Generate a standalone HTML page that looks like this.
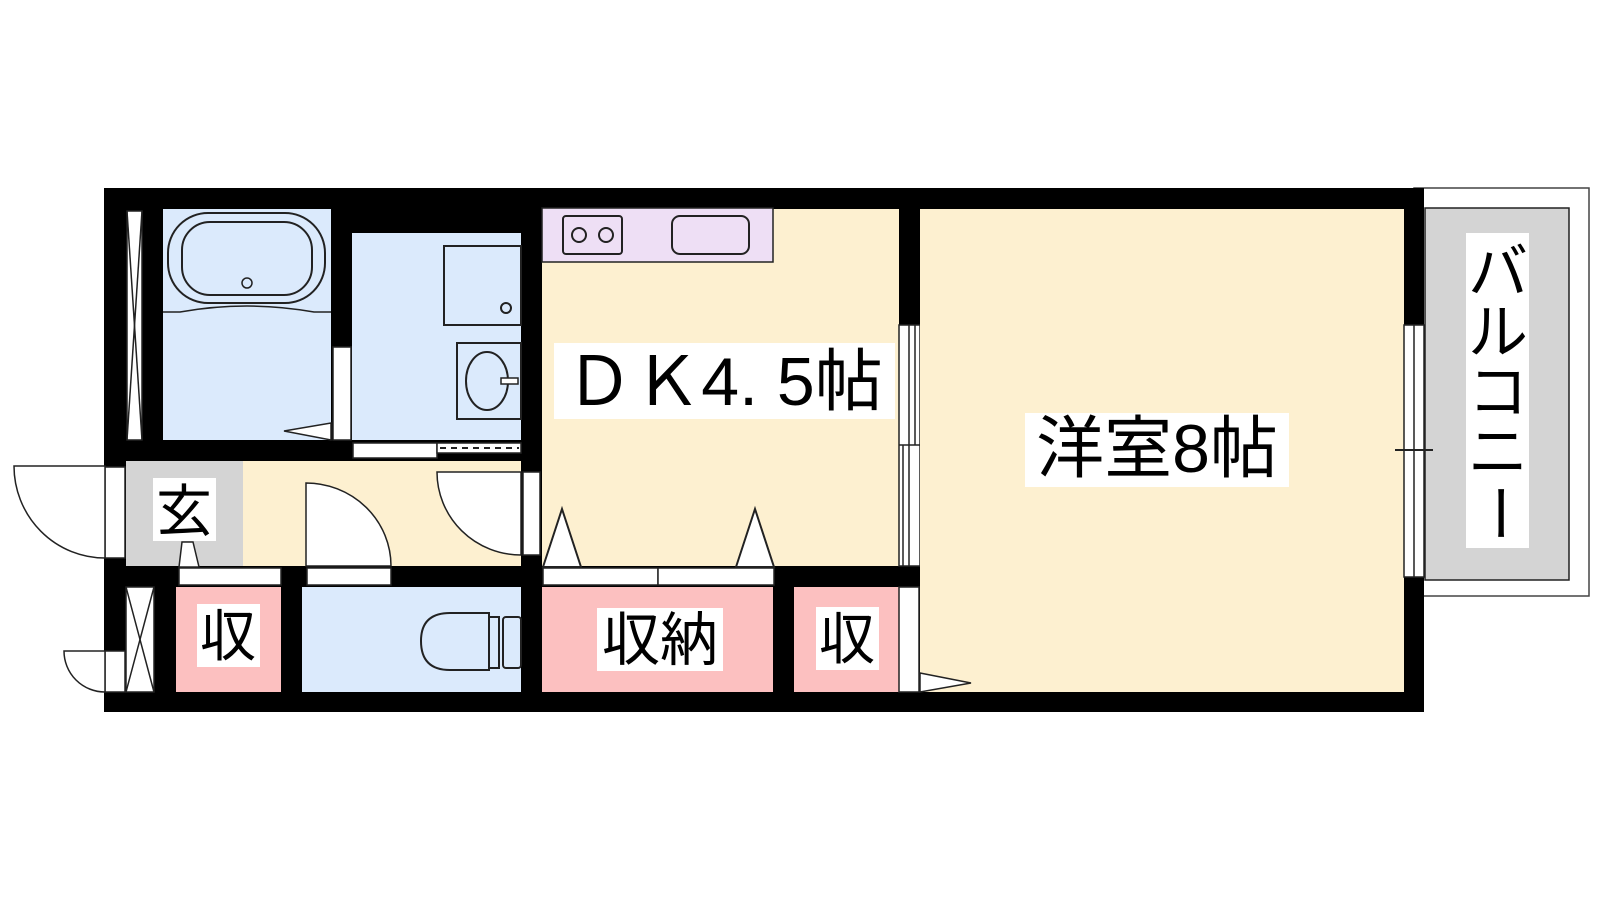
<!DOCTYPE html>
<html><head><meta charset="utf-8"><style>
html,body{margin:0;padding:0;background:#fff;}
svg{display:block}
text{font-family:"Liberation Sans","Noto Sans CJK JP",sans-serif;fill:#000}
</style></head><body>
<svg width="1600" height="900" viewBox="0 0 1600 900" xmlns="http://www.w3.org/2000/svg">
<!-- balcony -->
<rect x="1414" y="188" width="175" height="408" fill="#fff" stroke="#444" stroke-width="1.5"/>
<rect x="1425" y="208" width="144" height="372" fill="#d4d4d4" stroke="#222" stroke-width="1.5"/>
<rect x="1466" y="233" width="63" height="315" fill="#fff"/>
<g font-size="60" text-anchor="middle">
<text x="1498" y="293">バ</text>
<text x="1498" y="353">ル</text>
<text x="1498" y="413">コ</text>
<text x="1498" y="473">ニ</text>
<text x="1498" y="533" transform="rotate(90 1498 513)">ー</text>
</g>
<!-- walls -->
<rect x="104" y="188" width="1320" height="524" fill="#000"/>
<g stroke="#222" stroke-width="1.5">
<rect x="127" y="211" width="15" height="229" fill="#fff"/>
<line x1="127" y1="211" x2="142" y2="440"/><line x1="142" y1="211" x2="127" y2="440"/>
<rect x="163" y="209" width="168" height="231" fill="#dbeafc" stroke="none"/>
<rect x="168" y="213" width="157" height="90" rx="40" fill="none" stroke-width="2"/>
<rect x="182" y="222" width="130" height="73" rx="28" fill="none" stroke-width="2"/>
<circle cx="247" cy="283" r="5" fill="none"/>
<path d="M163 312 L180 312 Q247 300 314 312 L331 312" fill="none"/>
<rect x="352" y="233" width="169" height="207" fill="#dbeafc" stroke="none"/>
<rect x="444" y="246" width="77" height="79" fill="none" stroke-width="2"/>
<circle cx="506" cy="308" r="5" fill="none" stroke-width="2"/>
<rect x="457" y="343" width="64" height="76" fill="none" stroke-width="2"/>
<ellipse cx="487" cy="381" rx="21" ry="29" fill="none" stroke-width="2"/>
<rect x="501" y="378" width="17" height="6" fill="#fff"/>
<rect x="333" y="347" width="18" height="93" fill="#fff"/>
<polygon points="284,431 331,423 331,440" fill="#fff"/>
<rect x="353" y="443" width="84" height="15" fill="#fff"/>
<rect x="437" y="443" width="84" height="10" fill="#fff"/>
<line x1="440" y1="448" x2="519" y2="448" stroke-dasharray="6,5" stroke-width="2"/>
<rect x="126" y="461" width="117" height="105" fill="#d4d4d4" stroke="none"/>
<rect x="243" y="461" width="278" height="105" fill="#fdf0d0" stroke="none"/>
<rect x="105" y="467" width="20" height="91" fill="#fff"/>
<path d="M14 466 L105 466 L105 558 A91 92 0 0 1 14 466 Z" fill="#fff"/>
<polygon points="179,567 182,542 193,542 199,567" fill="#fff"/>
<path d="M306 483 L306 566 L391 566 A85 83 0 0 0 306 483 Z" fill="#fff"/>
<rect x="523" y="472" width="17" height="83" fill="#fff"/>
<path d="M437 472 L521 472 L521 555 A84 83 0 0 1 437 472 Z" fill="#fff"/>
<rect x="179" y="568" width="102" height="17" fill="#fff"/>
<rect x="307" y="568" width="84" height="17" fill="#fff"/>
<rect x="542" y="209" width="357" height="357" fill="#fdf0d0" stroke="none"/>
<rect x="542" y="208" width="231" height="54" fill="#eedff5"/>
<rect x="563" y="216" width="59" height="38" rx="3" fill="none" stroke-width="2"/>
<circle cx="579" cy="235" r="7" fill="none" stroke-width="2"/>
<circle cx="606" cy="235" r="7" fill="none" stroke-width="2"/>
<rect x="672" y="216" width="77" height="38" rx="8" fill="none" stroke-width="2"/>
<polygon points="543,567 562,509 581,567" fill="#fff" stroke-width="2"/>
<polygon points="736,567 755,509 774,567" fill="#fff" stroke-width="2"/>
<rect x="543" y="568" width="115" height="17" fill="#fff"/>
<rect x="658" y="568" width="116" height="17" fill="#fff"/>
<rect x="899" y="325" width="21" height="241" fill="#fff"/>
<line x1="909" y1="325" x2="909" y2="566"/><line x1="915" y1="325" x2="915" y2="445"/>
<line x1="903" y1="445" x2="903" y2="566"/><line x1="899" y1="445" x2="920" y2="445"/>
<rect x="920" y="209" width="484" height="483" fill="#fdf0d0" stroke="none"/>
<rect x="1404" y="325" width="20" height="252" fill="#fff"/>
<line x1="1414" y1="325" x2="1414" y2="577"/>
<line x1="1395" y1="450" x2="1433" y2="450" stroke-width="2"/>
<rect x="126" y="587" width="28" height="105" fill="#fff"/>
<line x1="126" y1="587" x2="154" y2="692"/><line x1="154" y1="587" x2="126" y2="692"/>
<rect x="105" y="651" width="20" height="41" fill="#fff"/>
<path d="M64 651 L105 651 L105 692 A41 41 0 0 1 64 651 Z" fill="#fff"/>
<rect x="176" y="587" width="105" height="105" fill="#fcc0c0" stroke="none"/>
<rect x="302" y="587" width="219" height="105" fill="#dbeafc" stroke="none"/>
<path d="M450 613 L489 613 L489 670 L450 670 Q421 670 421 641 Q421 613 450 613 Z" fill="none" stroke-width="2"/>
<rect x="489" y="617" width="10" height="51" fill="none" stroke-width="2"/>
<rect x="503" y="617" width="18" height="51" rx="3" fill="none" stroke-width="2"/>
<rect x="542" y="587" width="231" height="105" fill="#fcc0c0" stroke="none"/>
<rect x="794" y="587" width="105" height="105" fill="#fcc0c0" stroke="none"/>
<rect x="899" y="587" width="20" height="105" fill="#fff"/>
<polygon points="920,673 971,683 920,692" fill="#fff"/>
</g>
<rect x="153" y="478" width="63" height="63" fill="#fff"/>
<text x="184" y="531" font-size="56" text-anchor="middle">玄</text>
<rect x="197" y="604" width="63" height="63" fill="#fff"/>
<text x="228" y="656" font-size="56" text-anchor="middle">収</text>
<rect x="597" y="608" width="126" height="63" fill="#fff"/>
<text x="660" y="660" font-size="58" text-anchor="middle">収納</text>
<rect x="816" y="607" width="63" height="63" fill="#fff"/>
<text x="847" y="659" font-size="56" text-anchor="middle">収</text>
<rect x="554" y="343" width="341" height="76" fill="#fff"/>
<text x="724" y="405" font-size="68" text-anchor="middle">ＤＫ4. 5帖</text>
<rect x="1025" y="413" width="264" height="74" fill="#fff"/>
<text x="1157" y="472" font-size="68" text-anchor="middle">洋室8帖</text>
</svg>
</body></html>
